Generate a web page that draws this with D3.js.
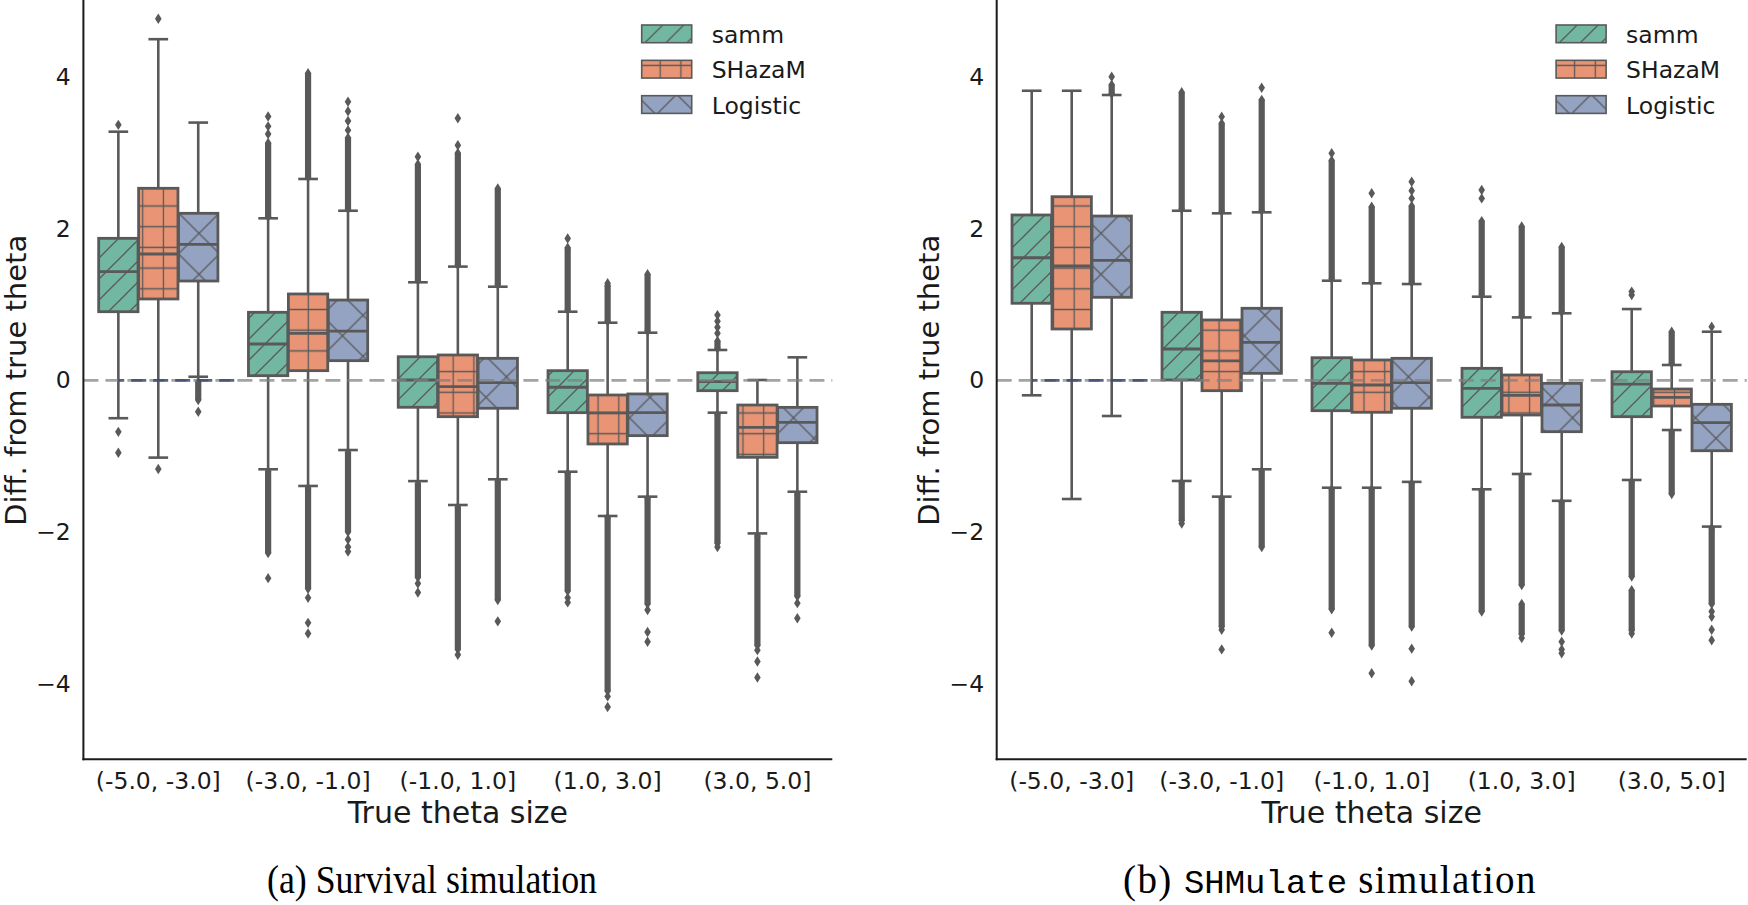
<!DOCTYPE html>
<html><head><meta charset="utf-8">
<script src="https://cdn.jsdelivr.net/npm/d3@7"></script>
<style>body{margin:0;background:#fff;} svg{display:block;}</style>
</head><body><svg id="chart" width="1748" height="905"></svg>
<script>
// ---------------- data ----------------
const categories = ["(-5.0, -3.0]", "(-3.0, -1.0]", "(-1.0, 1.0]", "(1.0, 3.0]", "(3.0, 5.0]"];
const methods = ["samm", "SHazaM", "Logistic"];
const yTickValues = [-4, -2, 0, 2, 4];
const yTickLabels = ["\u22124", "\u22122", "0", "2", "4"];
const xTitle = "True theta size";
const yTitle = "Diff. from true theta";
const captionA = "(a) Survival simulation";
const captionB = ["(b) ", "SHMulate", " simulation"];

// box stats per category: [lower whisker, Q1, median, Q3, upper whisker]
// runs: dense columns of outliers [from, to]; pts: isolated outliers
// ---- (a) Survival simulation ----
const survSammBox = [[-0.50, 0.905, 1.433, 1.873, 3.28], [-1.174, 0.061, 0.479, 0.897, 2.137], [-1.33, -0.356, 0.004, 0.311, 1.293], [-1.206, -0.427, -0.092, 0.127, 0.905], [-0.427, -0.137, -0.018, 0.10, 0.40]];
const survSammRuns = [[], [[2.16, 3.13], [-1.2, -2.28]], [[1.32, 2.85], [-1.36, -2.6]], [[0.93, 1.75], [-1.23, -2.78]], [[0.42, 0.52], [-0.45, -2.15]]];
const survSammPts = [[3.37, -0.68, -0.955], [3.25, 3.35, 3.48, -2.61], [2.95, -2.68, -2.80], [1.87, -2.87, -2.93], [0.62, 0.70, 0.78, 0.86, -2.2]];

const survShazamBox = [[-1.02, 1.073, 1.666, 2.533, 4.50], [-1.394, 0.127, 0.62, 1.139, 2.656], [-1.645, -0.48, -0.084, 0.334, 1.50], [-1.79, -0.84, -0.43, -0.194, 0.76], [-2.02, -1.016, -0.62, -0.326, 0.004]];
const survShazamRuns = [[], [[2.68, 4.05], [-1.42, -2.75]], [[1.52, 3.0], [-1.67, -3.55]], [[0.78, 1.25], [-1.81, -4.1]], [[-2.05, -3.5]]];
const survShazamPts = [[4.77, -1.17], [-2.87, -3.20, -3.34], [3.10, 3.457, -3.62], [1.28, -4.17, -4.31], [-3.56, -3.71, -3.92]];

const survLogBox = [[0.047, 1.31, 1.794, 2.203, 3.40], [-0.92, 0.259, 0.65, 1.059, 2.237], [-1.306, -0.369, -0.03, 0.29, 1.235], [-1.535, -0.73, -0.427, -0.18, 0.628], [-1.47, -0.823, -0.554, -0.357, 0.303]];
const survLogRuns = [[[-0.02, -0.26]], [[2.26, 3.2], [-0.95, -2.0]], [[1.26, 2.53], [-1.33, -2.9]], [[0.65, 1.40], [-1.56, -2.95]], [[-1.5, -2.85]]];
const survLogPts = [[-0.414], [3.3, 3.42, 3.55, 3.675, -2.1, -2.2, -2.26], [-3.18], [-3.03, -3.32, -3.45], [-2.94, -3.14]];

// ---- (b) SHMulate simulation ----
const shmSammBox = [[-0.198, 1.016, 1.617, 2.181, 3.82], [-1.328, 0.004, 0.413, 0.897, 2.237], [-1.417, -0.401, -0.04, 0.298, 1.314], [-1.438, -0.488, -0.106, 0.158, 1.103], [-1.315, -0.48, -0.05, 0.113, 0.94]];
const shmSammRuns = [[], [[2.26, 3.8], [-1.35, -1.85]], [[1.34, 2.9], [-1.44, -3.02]], [[1.13, 2.1], [-1.46, -3.05]], [[-1.34, -2.59], [-2.77, -3.30]]];
const shmSammPts = [[], [-1.89], [2.995, -3.33], [2.40, 2.51], [1.125, 1.17, -3.34]];

const shmShazamBox = [[-1.566, 0.677, 1.508, 2.422, 3.82], [-1.535, -0.137, 0.255, 0.796, 2.203], [-1.417, -0.422, -0.062, 0.268, 1.28], [-1.236, -0.458, -0.2, 0.07, 0.83], [-0.656, -0.339, -0.224, -0.115, 0.202]];
const shmShazamRuns = [[], [[2.23, 3.39], [-1.56, -3.25]], [[1.30, 2.29], [-1.44, -3.5]], [[0.85, 2.03], [-1.26, -2.7], [-2.95, -3.35]], [[0.22, 0.64], [-0.68, -1.5]]];
const shmShazamPts = [[], [3.478, -3.29, -3.55], [2.467, -3.865], [-3.40], []];

const shmLogBox = [[-0.471, 1.095, 1.583, 2.167, 3.764], [-1.174, 0.092, 0.50, 0.95, 2.216], [-1.34, -0.369, -0.03, 0.29, 1.27], [-1.59, -0.678, -0.326, -0.04, 0.884], [-1.93, -0.929, -0.559, -0.317, 0.641]];
const shmLogRuns = [[[3.78, 3.9]], [[2.24, 3.7], [-1.2, -2.2]], [[1.29, 2.3], [-1.36, -3.25]], [[0.9, 1.76], [-1.61, -3.3]], [[-1.95, -2.95]]];
const shmLogPts = [[4.005], [3.86], [2.4, 2.5, 2.62, -3.54, -3.97], [-3.45, -3.55, -3.60], [0.707, -3.05, -3.12, -3.29, -3.43]];

// ---------------- styling ----------------
const colors = {samm: "#71b7a1", SHazaM: "#e99575", Logistic: "#95a3c3"};
const lineGray = "#595959";
const textColor = "#1a1a1a";
const panelTop = 1.3, panelBottom = 759.3;

const svg = d3.select("#chart");
const defs = svg.append("defs");

// hatch patterns (tiled in page space like matplotlib)
function pattern(id, size, ox, oy, color, pathD) {
  const p = defs.append("pattern").attr("id", id).attr("patternUnits", "userSpaceOnUse")
    .attr("x", ox).attr("y", oy).attr("width", size).attr("height", size);
  p.append("rect").attr("width", size).attr("height", size).attr("fill", color);
  p.append("path").attr("d", pathD).attr("stroke", lineGray).attr("stroke-width", 1.3).attr("fill", "none");
}
const Ps = 21;
pattern("h-samm", Ps, 0, 0, colors.samm, `M${-Ps/2},${Ps/2}L${Ps/2},${-Ps/2}M0,${Ps}L${Ps},0M${Ps/2},${Ps*1.5}L${Ps*1.5},${Ps/2}`);
const Pp = 20.7;
pattern("h-SHazaM", Pp, 297.95, 195.65, colors.SHazaM, `M${Pp/2},0V${Pp}M0,${Pp/2}H${Pp}`);
const Px = 41;
pattern("h-Logistic", Px, 178.5, 212.8, colors.Logistic, `M0,0L${Px},${Px}M${Px},0L0,${Px}`);

const diamond = "M0,-5.2L3.3,0L0,5.2L-3.3,0Z";

function drawPanel(left, right, seriesList) {
  const g = svg.append("g");
  const x = d3.scaleBand().domain(categories).range([left, right]).padding(0);
  const y = d3.scaleLinear().domain([-5, 5]).range([panelBottom, panelTop]);
  const bw = x.bandwidth();
  const hue = d3.scaleBand().domain(methods).range([-bw * 0.4, bw * 0.4]);
  const boxW = hue.bandwidth() * 0.985;

  const ya = g.append("g").attr("transform", `translate(${left},0)`)
    .call(d3.axisLeft(y).tickValues(yTickValues).tickSize(0).tickPadding(12.6)
      .tickFormat((d, i) => yTickLabels[i]));
  ya.select(".domain").remove();
  ya.selectAll("text").attr("font-family", "DejaVu Sans").attr("font-size", 23.5).attr("fill", textColor);
  const xa = g.append("g").attr("transform", `translate(0,${panelBottom})`)
    .call(d3.axisBottom(x).tickSize(0).tickPadding(13));
  xa.select(".domain").remove();
  xa.selectAll("text").attr("font-family", "DejaVu Sans").attr("font-size", 23.5).attr("fill", textColor);

  seriesList.forEach((s, si) => {
    const m = methods[si];
    categories.forEach((c, ci) => {
      const cx = x(c) + bw / 2 + hue(m) + hue.bandwidth() / 2;
      const [wl, q1, med, q3, wh] = s.box[ci];
      const gb = g.append("g");
      gb.append("line").attr("x1", cx).attr("x2", cx).attr("y1", y(q3)).attr("y2", y(wh))
        .attr("stroke", lineGray).attr("stroke-width", 2.6);
      gb.append("line").attr("x1", cx).attr("x2", cx).attr("y1", y(q1)).attr("y2", y(wl))
        .attr("stroke", lineGray).attr("stroke-width", 2.6);
      [wl, wh].forEach(v => gb.append("line").attr("x1", cx - boxW / 4).attr("x2", cx + boxW / 4)
        .attr("y1", y(v)).attr("y2", y(v)).attr("stroke", lineGray).attr("stroke-width", 2.6));
      s.runs[ci].forEach(r => {
        const y1 = y(Math.max(r[0], r[1])), y2 = y(Math.min(r[0], r[1]));
        gb.append("rect").attr("x", cx - 3.1).attr("width", 6.2).attr("y", y1).attr("height", y2 - y1)
          .attr("fill", lineGray);
        [r[0], r[1]].forEach(v => gb.append("path").attr("d", diamond)
          .attr("transform", `translate(${cx},${y(v)})`).attr("fill", lineGray));
      });
      s.pts[ci].forEach(v => gb.append("path").attr("d", diamond)
        .attr("transform", `translate(${cx},${y(v)})`).attr("fill", lineGray));
      gb.append("rect").attr("x", cx - boxW / 2).attr("width", boxW)
        .attr("y", y(q3)).attr("height", y(q1) - y(q3))
        .attr("fill", `url(#h-${m})`).attr("stroke", lineGray).attr("stroke-width", 2.8);
      gb.append("line").attr("x1", cx - boxW / 2).attr("x2", cx + boxW / 2)
        .attr("y1", y(med)).attr("y2", y(med)).attr("stroke", lineGray).attr("stroke-width", 2.8);
    });
  });

  g.append("line").attr("x1", left).attr("x2", right).attr("y1", y(0)).attr("y2", y(0))
    .attr("stroke", "#808080").attr("stroke-opacity", 0.72).attr("stroke-width", 2.8)
    .attr("stroke-dasharray", "15,7");
  const c0 = x(categories[0]) + bw / 2;
  g.append("line").attr("x1", c0 - bw * 0.267).attr("x2", c0 + bw * 0.533).attr("y1", y(0)).attr("y2", y(0))
    .attr("stroke", "#3a4670").attr("stroke-opacity", 0.85).attr("stroke-width", 2.8)
    .attr("stroke-dasharray", "15,7").attr("stroke-dashoffset", -(c0 - bw * 0.267 - left));

  g.append("line").attr("x1", left).attr("x2", left).attr("y1", 0).attr("y2", panelBottom + 1)
    .attr("stroke", "#1a1a1a").attr("stroke-width", 2);
  g.append("line").attr("x1", left - 1).attr("x2", right).attr("y1", panelBottom).attr("y2", panelBottom)
    .attr("stroke", "#1a1a1a").attr("stroke-width", 2);

  g.append("text").attr("x", (left + right) / 2).attr("y", 823).attr("text-anchor", "middle")
    .attr("font-family", "DejaVu Sans").attr("font-size", 30).attr("fill", textColor).text(xTitle);
  const yl = left - 57.5;
  g.append("text").attr("transform", `translate(${yl},${(panelTop + panelBottom) / 2}) rotate(-90)`)
    .attr("text-anchor", "middle").attr("font-family", "DejaVu Sans").attr("font-size", 29)
    .attr("fill", textColor).text(yTitle);

  const lg = g.append("g").attr("transform", `translate(${right - 190.6},25)`);
  methods.forEach((m, i) => {
    lg.append("rect").attr("x", 0).attr("y", i * 35.35).attr("width", 50).attr("height", 17.7)
      .attr("fill", `url(#h-${m})`).attr("stroke", lineGray).attr("stroke-width", 1.6);
    lg.append("text").attr("x", 70).attr("y", i * 35.35 + 18).attr("font-family", "DejaVu Sans")
      .attr("font-size", 23.5).attr("fill", textColor).text(m);
  });
}

drawPanel(83.4, 832.3, [
  {box: survSammBox, runs: survSammRuns, pts: survSammPts},
  {box: survShazamBox, runs: survShazamRuns, pts: survShazamPts},
  {box: survLogBox, runs: survLogRuns, pts: survLogPts}
]);
drawPanel(996.7, 1746.7, [
  {box: shmSammBox, runs: shmSammRuns, pts: shmSammPts},
  {box: shmShazamBox, runs: shmShazamRuns, pts: shmShazamPts},
  {box: shmLogBox, runs: shmLogRuns, pts: shmLogPts}
]);

svg.append("text").attr("x", 432).attr("y", 893).attr("text-anchor", "middle")
  .attr("font-family", "Liberation Serif").attr("font-size", 39)
  .attr("textLength", 330).attr("lengthAdjust", "spacingAndGlyphs")
  .attr("fill", "#000").text(captionA);
const cb = svg.append("text").attr("x", 1330).attr("y", 893).attr("text-anchor", "middle")
  .attr("font-family", "Liberation Serif").attr("font-size", 39).attr("fill", "#000");
cb.append("tspan").attr("letter-spacing", 1.4).text(captionB[0]);
cb.append("tspan").attr("font-family", "Liberation Mono").attr("font-size", 34).text(captionB[1]);
cb.append("tspan").attr("letter-spacing", 1.4).text(captionB[2]);
</script></body></html>
